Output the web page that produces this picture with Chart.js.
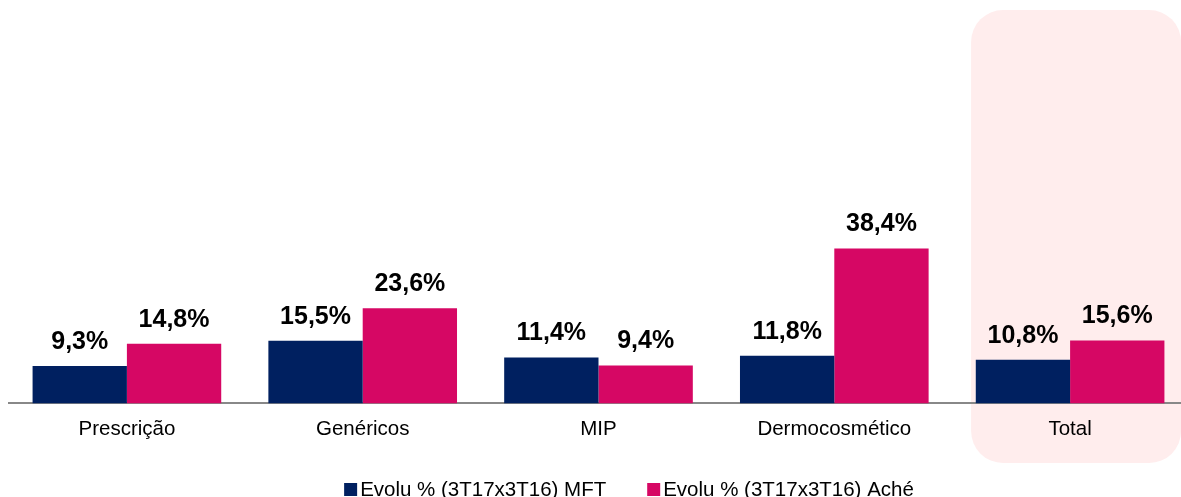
<!DOCTYPE html>
<html>
<head>
<meta charset="utf-8">
<script src="https://cdn.jsdelivr.net/npm/chart.js@4"></script>
<style>
  html, body { margin: 0; padding: 0; background: #fff; overflow: hidden; }
  #wrap { width: 1181px; height: 497px; overflow: hidden; }
</style>
</head>
<body>
<div id="wrap"><canvas id="myChart" width="1188" height="497"></canvas></div>
<script>
const categories = ['Prescrição', 'Genéricos', 'MIP', 'Dermocosmético', 'Total'];
const seriesNames = ['Evolu % (3T17x3T16) MFT', 'Evolu % (3T17x3T16) Aché'];
const mftValues = [9.3, 15.5, 11.4, 11.8, 10.8];
const acheValues = [14.8, 23.6, 9.4, 38.4, 15.6];
const colors = ['#002060', '#D60764'];
const highlightIndex = 4;

const FONT = "'Liberation Sans', Arial, sans-serif";

function fmt(v) {
    return v.toFixed(1).replace('.', ',') + '%';
}

// pink rounded box behind the "Total" group
const highlightPlugin = {
    id: 'highlight',
    beforeDraw(chart) {
        const ctx = chart.ctx;
        const x = chart.scales.x;
        const cx = x.getPixelForValue(highlightIndex);
        const left = cx - 99, right = cx + 111, top = 10, bottom = 463, r = 32;
        ctx.save();
        ctx.fillStyle = '#ffffff';
        ctx.fillRect(0, 0, chart.width, chart.height);
        ctx.fillStyle = '#FFEDED';
        ctx.beginPath();
        ctx.roundRect(left, top, right - left, bottom - top, r);
        ctx.fill();
        ctx.restore();
    }
};

// value labels above each bar
const valueLabels = {
    id: 'valueLabels',
    afterDatasetsDraw(chart) {
        const ctx = chart.ctx;
        ctx.save();
        ctx.font = 'bold 25px ' + FONT;
        ctx.fillStyle = '#000';
        ctx.textAlign = 'center';
        ctx.textBaseline = 'alphabetic';
        chart.data.datasets.forEach((ds, i) => {
            chart.getDatasetMeta(i).data.forEach((bar, j) => {
                ctx.fillText(fmt(ds.data[j]), bar.x, bar.y - 17);
            });
        });
        ctx.restore();
    }
};

// legend with small squares close to the text
const bottomLegend = {
    id: 'bottomLegend',
    afterDraw(chart) {
        const ctx = chart.ctx;
        ctx.save();
        ctx.font = '20.5px ' + FONT;
        const box = 13, gapBox = 3, gapItem = 41;
        const widths = chart.data.datasets.map(ds => box + gapBox + ctx.measureText(ds.label).width);
        const total = widths.reduce((a, b) => a + b, 0) + gapItem * (widths.length - 1);
        let x = 629 - total / 2;
        const baseY = 496;
        chart.data.datasets.forEach((ds, i) => {
            ctx.fillStyle = ds.backgroundColor;
            ctx.fillRect(x, baseY - 13, box, box);
            ctx.fillStyle = '#000';
            ctx.textBaseline = 'alphabetic';
            ctx.fillText(ds.label, x + box + gapBox, baseY);
            x += widths[i] + gapItem;
        });
        ctx.restore();
    }
};

const chart = new Chart(document.getElementById('myChart').getContext('2d'), {
    type: 'bar',
    data: {
        labels: categories,
        datasets: [
            { label: seriesNames[0], data: mftValues, backgroundColor: colors[0] },
            { label: seriesNames[1], data: acheValues, backgroundColor: colors[1] }
        ]
    },
    options: {
        responsive: false,
        animation: false,
        layout: { padding: { left: 9, right: 0, top: 0, bottom: 41 } },
        datasets: { bar: { categoryPercentage: 0.8, barPercentage: 1.0 } },
        plugins: {
            legend: { display: false },
            tooltip: { enabled: false }
        },
        scales: {
            x: {
                grid: { display: false, drawTicks: false },
                border: { display: true, color: '#888888', width: 2 },
                ticks: { color: '#000', padding: 14, font: { family: FONT, size: 20.5 } }
            },
            y: {
                display: false,
                min: 0,
                max: 100
            }
        }
    },
    plugins: [highlightPlugin, valueLabels, bottomLegend]
});
</script>
</body>
</html>
